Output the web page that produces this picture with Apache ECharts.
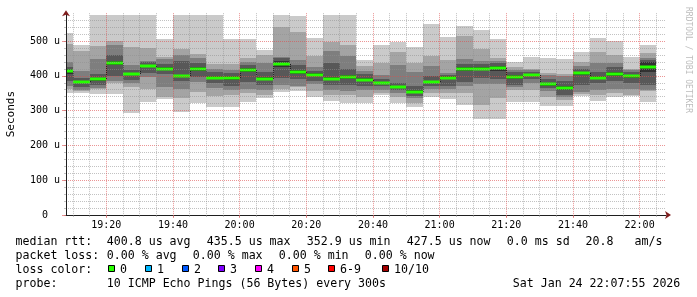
<!DOCTYPE html>
<html><head><meta charset="utf-8">
<script src="https://cdn.jsdelivr.net/npm/echarts@6/dist/echarts.min.js"></script>
<style>html,body{margin:0;padding:0;background:#fff}#c{width:697px;height:297px}</style>
</head><body><div id="c"></div>
<script>
// ---- data (values in microseconds) ----
const barStart = ['19:05','19:10','19:15','19:20','19:25','19:30','19:35','19:40','19:45','19:50','19:55','20:00',
  '20:05','20:10','20:15','20:20','20:25','20:30','20:35','20:40','20:45','20:50','20:55','21:00',
  '21:05','21:10','21:15','21:20','21:25','21:30','21:35','21:40','21:45','21:50','21:55','22:00'];
const ping1 = [352,352,348,348,294,326,332,297,321,311,309,326,335,354,357,338,328,321,323,345,323,311,338,333,316,275,275,326,326,313,313,342,328,338,342,326];
const ping2 = [362,355,361,378,367,363,340,335,354,342,345,350,345,362,367,355,345,345,340,352,340,322,350,352,351,316,337,360,359,340,330,348,345,350,345,355];
const ping3 = [372,358,366,385,378,396,367,361,383,365,360,361,359,374,371,376,360,357,360,360,350,335,362,362,370,376,376,367,378,355,338,354,360,362,362,359];
const ping4 = [385,368,375,398,388,409,405,385,397,378,372,383,375,395,390,384,375,374,370,370,360,342,370,372,383,393,390,374,392,365,345,375,378,385,380,375];
const ping5 = [405,380,385,430,402,424,416,396,414,390,388,412,388,426,405,398,388,392,385,377,364,350,378,390,414,416,414,390,400,372,360,402,392,400,394,412];
const ping6 = [420,386,395,442,408,432,424,403,424,398,398,422,396,442,418,408,396,402,393,383,370,358,386,398,424,424,428,402,406,380,372,412,398,412,402,440];
const ping7 = [426,395,405,460,418,440,434,442,436,410,408,432,410,450,430,415,436,420,405,390,380,372,399,402,435,434,436,410,412,392,385,420,412,425,410,445];
const ping8 = [440,414,448,488,432,443,447,460,450,420,417,440,436,455,445,426,471,457,415,402,431,412,428,407,447,443,443,418,416,402,398,428,438,438,416,450];
const ping9 = [490,471,486,500,482,480,455,477,463,434,434,450,460,540,526,457,498,489,427,437,469,438,457,445,514,476,451,424,419,409,405,440,469,460,420,466];
const ping10 = [524,488,575,575,575,575,505,575,575,575,505,506,474,575,572,510,575,575,445,489,498,484,549,512,543,532,505,441,455,450,447,468,508,500,455,489];
const median = [414,383,390,436,405,428,420,399,419,394,393,417,392,434,412,403,392,397,389,380,367,354,382,394,419,420,421,397,403,376,366,407,395,406,398,426];
const xTickLabels = ['19:20','19:40','20:00','20:20','20:40','21:00','21:20','21:40','22:00'];
const yTickValues = [0,100,200,300,400,500];
const yTickLabels = ['0  ','100 u','200 u','300 u','400 u','500 u'];
const lossColors = ['#26ff00','#00b8ff','#0059ff','#7e00ff','#ff00ff','#ff5500','#ff0000','#a10000'];
const lossLabels = ['0','1','2','3','4','5','6-9','10/10'];
const smokeColors = ['#cacaca','#a4a4a4','#7e7e7e','#585858','#323232'];
const windowStart = '19:07:55', windowEnd = '22:07:55';
const stepMin = 5;

// ---- helpers ----
function toMin(s){const p=s.split(':').map(Number);return p[0]*60+p[1]+(p[2]||0)/60;}
function fmt(v){const h=Math.floor(v/60),m=Math.round(v-h*60);return (h<10?'0':'')+h+':'+(m<10?'0':'')+m;}
const xMin = toMin(windowStart), xMax = toMin(windowEnd);
const minorX = []; for (let t=Math.ceil(xMin/stepMin)*stepMin; t<=xMax; t+=stepMin) minorX.push(t);
const majorX = xTickLabels.map(toMin);
const pings = [ping1,ping2,ping3,ping4,ping5,ping6,ping7,ping8,ping9,ping10];
const data = barStart.map((s,i)=>{const t=toMin(s);return [t,t+stepMin].concat(pings.map(a=>a[i])).concat([median[i]]);});

const MAJ='rgba(222,79,79,0.6)', MIN='rgba(143,143,143,0.55)';
const MONO='"DejaVu Sans Mono", monospace';

function renderSmoke(params, api){
  const i = params.dataIndex;
  const cs = params.coordSys;
  const box = {x:cs.x,y:cs.y,width:cs.width,height:cs.height};
  const t0 = api.value(0), t1 = api.value(1);
  const xa = Math.round(api.coord([t0,0])[0]);
  const xb = Math.round(api.coord([t1,0])[0]);
  const children = [];
  for (let j=0;j<5;j++){
    const yt = Math.round(api.coord([t0, api.value(2+9-j)])[1]);
    const yb = Math.round(api.coord([t0, api.value(2+j)])[1]);
    const r = echarts.graphic.clipRectByRect({x:xa,y:yt,width:xb-xa,height:yb-yt}, box);
    if (r) children.push({type:'rect',shape:r,style:{fill:smokeColors[j]}});
  }
  const ym = Math.round(api.coord([t0, api.value(12)])[1]);
  if (i>0){
    const yp = Math.round(api.coord([t0, median[i-1]])[1]);
    if (xa >= cs.x) children.push({type:'line',shape:{x1:xa+0.5,y1:yp,x2:xa+0.5,y2:ym},style:{stroke:'#202020',lineWidth:1,lineDash:[1,1]}});
  }
  const g = echarts.graphic.clipRectByRect({x:xa,y:ym-1.5,width:xb-xa,height:3}, box);
  if (g) children.push({type:'rect',shape:g,style:{fill:lossColors[0]}});
  return {type:'group',children};
}

// ---- legend texts ----
const LF = '11.6px ' + MONO;
const graphics = [];
function txt(s,x,y,extra){graphics.push(Object.assign({type:'text',x:x,y:y,silent:true,style:{text:s,font:LF,fill:'#000',align:'left',verticalAlign:'middle'}},extra||{}));}
const L1=241.5, L2=255.5, L3=269.5, L4=283.5;
txt('median rtt:',15.5,L1);
txt('400.8 us avg',106.8,L1); txt('435.5 us max',206.8,L1); txt('352.9 us min',306.8,L1);
txt('427.5 us now',406.8,L1); txt('0.0 ms sd',506.8,L1); txt('20.8',585.5,L1); txt('am/s',634.5,L1);
txt('packet loss:',15.5,L2);
txt('0.00 % avg',106.8,L2); txt('0.00 % max',192.8,L2); txt('0.00 % min',278.8,L2); txt('0.00 % now',364.8,L2);
txt('loss color:',15.5,L3);
const boxX=[108,145,182,218,255,292,328,382];
lossLabels.forEach((l,k)=>{
  graphics.push({type:'rect',silent:true,shape:{x:boxX[k]+0.5,y:265.5,width:6,height:6},style:{fill:lossColors[k],stroke:'#000',lineWidth:1}});
  txt(l,boxX[k]+12,L3);
});
txt('probe:',15.5,L4);
txt('10 ICMP Echo Pings (56 Bytes) every 300s',106.8,L4);
txt('Sat Jan 24 22:07:55 2026',512.8,L4);
graphics.push({type:'text',x:688,y:60,rotation:-Math.PI/2,silent:true,style:{text:'RRDTOOL / TOBI OETIKER',font:'8px '+MONO,fill:'#bdbdbd',align:'center',verticalAlign:'middle'}});

const chart = echarts.init(document.getElementById('c'), null, {renderer:'canvas'});
chart.setOption({
  animation:false,
  backgroundColor:'#fff',
  grid:{left:66,top:13.16,width:600,height:201.84,containLabel:false,outerBoundsMode:'none'},
  xAxis:[
    {type:'value',min:xMin,max:xMax,position:'bottom',z:10,
     axisLine:{show:true,lineStyle:{color:'#1f1f1f',width:1}},
     axisTick:{show:true,customValues:minorX,length:2,lineStyle:{color:MIN}},
     axisLabel:{show:false},
     splitLine:{show:true,lineStyle:{color:[MIN,MIN,MAJ,MIN],type:[1,1],width:1}}},
    {type:'value',min:xMin,max:xMax,position:'bottom',z:11,
     axisLine:{show:true,symbol:['none','arrow'],symbolSize:[6,6],symbolOffset:[0,5],lineStyle:{color:'#801f1f',width:0}},
     axisTick:{show:true,customValues:majorX,length:3,lineStyle:{color:MAJ}},
     axisLabel:{show:true,customValues:majorX,margin:5,formatter:v=>fmt(v),fontFamily:'DejaVu Sans Mono',fontSize:10,color:'#000'},
     splitLine:{show:false}}
  ],
  yAxis:[
    {type:'value',min:0,max:580,interval:20,position:'left',z:10,
     axisLine:{show:true,lineStyle:{color:'#1f1f1f',width:1}},
     axisTick:{show:true,length:2,lineStyle:{color:MIN}},
     axisLabel:{show:true,margin:6,fontFamily:'DejaVu Sans Mono',fontSize:10,color:'#000',
       formatter:v=>{const k=yTickValues.indexOf(v);return k>=0?yTickLabels[k]:'';}},
     splitLine:{show:true,showMaxLine:false,lineStyle:{color:[MAJ,MIN,MIN,MIN,MIN],type:[1,1],width:1}},
     name:'Seconds',nameLocation:'middle',nameRotate:90,nameGap:49,
     nameTextStyle:{fontFamily:'DejaVu Sans Mono',fontSize:11,color:'#000'}},
    {type:'value',min:0,max:580,position:'left',z:11,
     axisLine:{show:true,symbol:['none','arrow'],symbolSize:[6,6],symbolOffset:[0,3],lineStyle:{color:'#801f1f',width:0}},
     axisTick:{show:true,customValues:yTickValues,length:4,lineStyle:{color:MAJ}},
     axisLabel:{show:false},splitLine:{show:false}}
  ],
  graphic:graphics,
  series:[{type:'custom',xAxisIndex:0,yAxisIndex:0,renderItem:renderSmoke,data:data,z:2,
    encode:{x:[0,1],y:[2,3,4,5,6,7,8,9,10,11,12]}}]
});
</script></body></html>
